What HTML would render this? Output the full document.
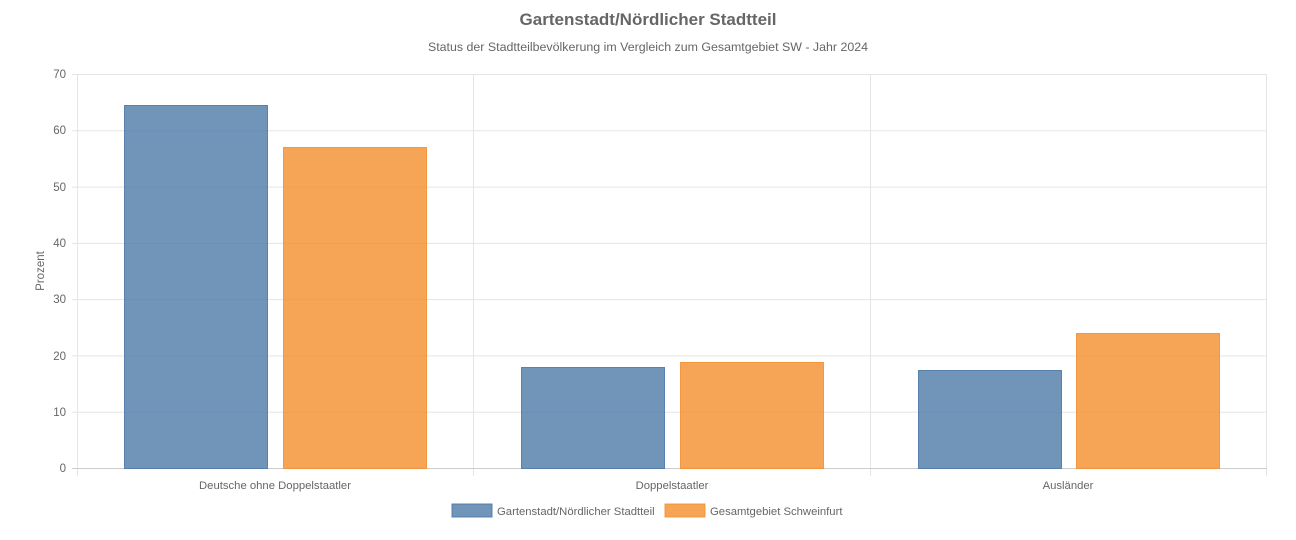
<!DOCTYPE html>
<html><head><meta charset="utf-8"><style>
html,body{margin:0;padding:0;background:#fff;}
svg{display:block;font-family:"Liberation Sans",Arial,sans-serif;}
</style></head><body>
<svg width="1296" height="540" viewBox="0 0 1296 540" xmlns="http://www.w3.org/2000/svg">
<text x="648" y="25" text-anchor="middle" font-size="17" font-weight="bold" fill="#666">Gartenstadt/Nördlicher Stadtteil</text>
<text x="648" y="51" text-anchor="middle" font-size="12.4" fill="#666">Status der Stadtteilbevölkerung im Vergleich zum Gesamtgebiet SW - Jahr 2024</text>
<g stroke="#e5e5e5" stroke-width="1">
<line x1="72" y1="74.5" x2="1267" y2="74.5"/>
<line x1="72" y1="130.8" x2="1267" y2="130.8"/>
<line x1="72" y1="187.1" x2="1267" y2="187.1"/>
<line x1="72" y1="243.4" x2="1267" y2="243.4"/>
<line x1="72" y1="299.6" x2="1267" y2="299.6"/>
<line x1="72" y1="355.9" x2="1267" y2="355.9"/>
<line x1="72" y1="412.2" x2="1267" y2="412.2"/>
<line x1="77.5" y1="74" x2="77.5" y2="476"/>
<line x1="473.5" y1="74" x2="473.5" y2="476"/>
<line x1="870.5" y1="74" x2="870.5" y2="476"/>
<line x1="1266.5" y1="74" x2="1266.5" y2="476"/>
</g>
<line x1="72" y1="468.5" x2="1267" y2="468.5" stroke="#ccc"/>
<g font-size="11.5" fill="#666" text-anchor="end">
<text x="66" y="78">70</text><text x="66" y="134">60</text><text x="66" y="191">50</text>
<text x="66" y="247">40</text><text x="66" y="303">30</text><text x="66" y="360">20</text>
<text x="66" y="416">10</text><text x="66" y="472">0</text>
</g>
<text transform="translate(44,271) rotate(-90)" text-anchor="middle" font-size="11.5" fill="#666">Prozent</text>
<g fill="rgba(78,121,167,0.8)" stroke="rgba(78,121,167,0.9)" stroke-width="1">
<rect x="124.5" y="105.5" width="143" height="363"/>
<rect x="521.5" y="367.5" width="143" height="101"/>
<rect x="918.5" y="370.5" width="143" height="98"/>
</g>
<g fill="rgba(242,142,43,0.8)" stroke="rgba(242,142,43,0.85)" stroke-width="1">
<rect x="283.5" y="147.5" width="143" height="321"/>
<rect x="680.5" y="362.5" width="143" height="106"/>
<rect x="1076.5" y="333.5" width="143" height="135"/>
</g>
<g font-size="11.3" fill="#666" text-anchor="middle">
<text x="275" y="489">Deutsche ohne Doppelstaatler</text>
<text x="672" y="489">Doppelstaatler</text>
<text x="1068" y="489">Ausländer</text>
</g>
<rect x="452" y="504" width="40" height="13" fill="rgba(78,121,167,0.8)" stroke="rgba(78,121,167,0.9)"/>
<text x="497" y="515" font-size="11.3" fill="#666">Gartenstadt/Nördlicher Stadtteil</text>
<rect x="665" y="504" width="40" height="13" fill="rgba(242,142,43,0.8)" stroke="rgba(242,142,43,0.85)"/>
<text x="710" y="515" font-size="11.3" fill="#666">Gesamtgebiet Schweinfurt</text>
</svg>
</body></html>
